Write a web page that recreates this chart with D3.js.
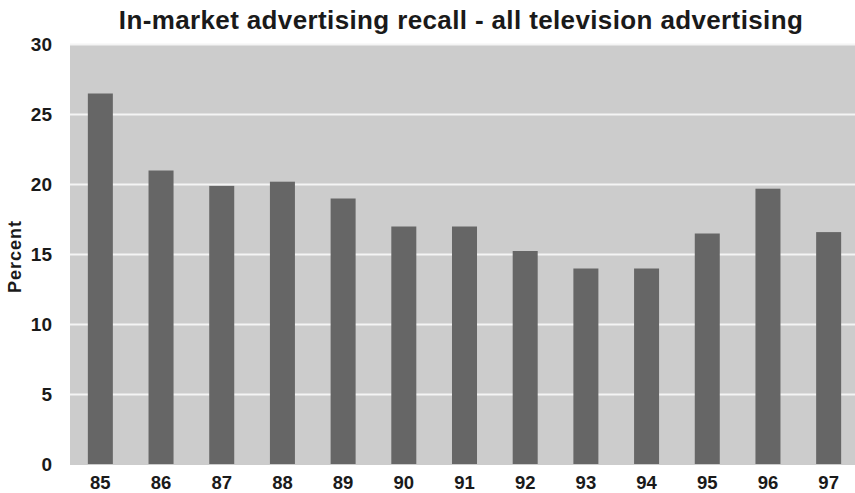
<!DOCTYPE html>
<html>
<head>
<meta charset="utf-8">
<script src="https://cdn.jsdelivr.net/npm/d3@7"></script>
<style>
  html, body { margin: 0; padding: 0; background: #ffffff; }
  svg { display: block; }
  text { font-family: "Liberation Sans", Arial, Helvetica, sans-serif; font-weight: bold; fill: #1a1a1a; }
</style>
</head>
<body>
<svg id="chart" width="855" height="493"></svg>
<script>
// Recall by year (percent)
const years = ["85", "86", "87", "88", "89", "90", "91", "92", "93", "94", "95", "96", "97"];
const recall = [26.5, 21, 19.9, 20.2, 19, 17, 17, 15.25, 14, 14, 16.5, 19.7, 16.6];
const yTicks = [0, 5, 10, 15, 20, 25, 30];

const titleText = "In-market advertising recall - all television advertising";
const yLabel = "Percent";

const W = 855, H = 493;
const margin = { top: 44.5, left: 70, bottom: 464.5, right: 859 };

const svg = d3.select("#chart");

const x = d3.scaleBand()
  .domain(years)
  .range([margin.left, margin.right])
  .paddingInner(0.588)
  .paddingOuter(0.294);

const y = d3.scaleLinear()
  .domain([0, 30])
  .range([margin.bottom, margin.top]);

// plot background
svg.append("rect")
  .attr("x", margin.left)
  .attr("y", y(30))
  .attr("width", W - margin.left)
  .attr("height", y(0) - y(30) + 0.5)
  .attr("fill", "#cccccc");

// horizontal gridlines
svg.append("g")
  .selectAll("line")
  .data(yTicks.filter(d => d > 0))
  .join("line")
  .attr("x1", margin.left)
  .attr("x2", W)
  .attr("y1", d => y(d))
  .attr("y2", d => y(d))
  .attr("stroke", "#f4f4f4")
  .attr("stroke-width", 2);

// bars
svg.append("g")
  .selectAll("rect")
  .data(years.map((yr, i) => ({ yr, v: recall[i] })))
  .join("rect")
  .attr("x", d => x(d.yr))
  .attr("width", x.bandwidth())
  .attr("y", d => y(d.v))
  .attr("height", d => y(0) - 0.5 - y(d.v))
  .attr("fill", "#666666");

// y axis
const yAxis = svg.append("g")
  .attr("transform", `translate(${margin.left},0)`)
  .call(d3.axisLeft(y).tickValues(yTicks).tickSize(0).tickPadding(18));
yAxis.select(".domain").remove();
yAxis.selectAll("text")
  .attr("font-size", 19)
  .attr("font-family", null)
  .style("font-weight", "bold")
  .attr("fill", "#1a1a1a");

// x axis
const xAxis = svg.append("g")
  .attr("transform", `translate(0,${margin.bottom})`)
  .call(d3.axisBottom(x).tickSize(0).tickPadding(11));
xAxis.select(".domain").remove();
xAxis.selectAll("text")
  .attr("font-size", 18.5)
  .attr("font-family", null)
  .style("font-weight", "bold")
  .attr("fill", "#1a1a1a");

// title
svg.append("text")
  .attr("x", 461)
  .attr("y", 29)
  .attr("text-anchor", "middle")
  .attr("font-size", 26)
  .attr("letter-spacing", 0.37)
  .text(titleText);

// y label
svg.append("text")
  .attr("transform", `translate(21,${(margin.top + margin.bottom) / 2 + 2}) rotate(-90)`)
  .attr("text-anchor", "middle")
  .attr("font-size", 18)
  .attr("letter-spacing", 1)
  .text(yLabel);
</script>
</body>
</html>
